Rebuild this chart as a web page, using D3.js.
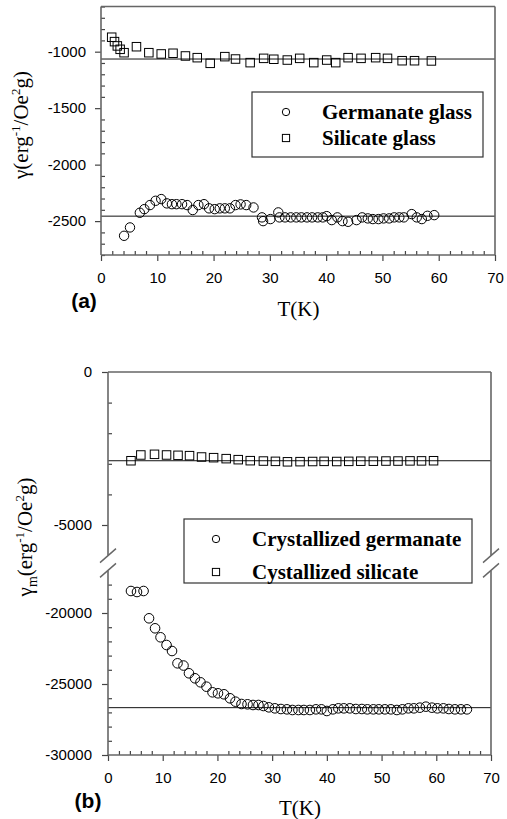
<!DOCTYPE html>
<html>
<head>
<meta charset="utf-8">
<script src="https://cdn.jsdelivr.net/npm/d3@7"></script>
<style>
  body { margin: 0; background: #fff; }
</style>
</head>
<body>
<div id="chart"></div>
<script>
// ---- data ----
// (a) glasses
const silicateGlassT = [1.9, 2.4, 2.9, 3.4, 4.1, 6.3, 8.5, 10.7, 12.8, 15.0, 17.1, 19.4, 22.0, 23.9, 26.5, 28.9, 30.7, 33.1, 35.3, 37.8, 40.1, 41.7, 43.9, 46.2, 48.8, 50.9, 53.5, 55.7, 58.7];
const silicateGlassG = [-872, -911, -949, -979, -1009, -956, -1009, -1020, -1014, -1038, -1053, -1103, -1044, -1065, -1097, -1059, -1067, -1074, -1059, -1097, -1074, -1097, -1053, -1059, -1053, -1059, -1080, -1080, -1082];

const germanateGlassT = [4.1, 5.15, 6.9, 7.7, 8.7, 9.7, 10.7, 11.7, 12.6, 13.4, 14.4, 15.3, 16.3, 17.3, 18.3, 19.2, 20.2, 21.1, 22.0, 22.9, 23.9, 24.8, 25.8, 27.1, 28.6, 28.8, 30.1, 31.5, 31.7, 32.7, 33.7, 34.7, 35.6, 36.6, 37.5, 38.5, 39.4, 40.1, 41.0, 42.0, 42.9, 43.9, 45.4, 46.4, 47.4, 48.3, 49.3, 50.2, 51.2, 52.1, 53.0, 53.8, 55.2, 56.1, 57.0, 58.0, 59.2];
const germanateGlassG = [-2630, -2556, -2426, -2394, -2358, -2320, -2305, -2343, -2350, -2350, -2350, -2358, -2402, -2358, -2350, -2387, -2394, -2387, -2387, -2387, -2358, -2352, -2358, -2379, -2467, -2500, -2482, -2423, -2467, -2467, -2467, -2467, -2467, -2467, -2467, -2467, -2467, -2456, -2491, -2467, -2500, -2506, -2491, -2467, -2476, -2482, -2482, -2476, -2476, -2467, -2467, -2467, -2438, -2467, -2482, -2453, -2447];

const levelsA = [-1065, -2456];

// (b) crystallized
const crystSilicateT = [4.2, 6.0, 8.5, 10.7, 12.8, 14.9, 17.1, 19.3, 21.6, 23.8, 26.0, 28.4, 30.6, 32.8, 35.1, 37.4, 39.5, 41.8, 44.0, 46.2, 48.5, 50.8, 53.0, 55.2, 57.3, 59.5];
const crystSilicateG = [-2900, -2712, -2690, -2712, -2723, -2734, -2778, -2800, -2832, -2865, -2898, -2910, -2920, -2935, -2930, -2925, -2920, -2925, -2920, -2915, -2915, -2910, -2910, -2905, -2905, -2900];

const crystGermanateT = [4.2, 5.3, 6.5, 7.5, 8.6, 9.6, 10.7, 11.7, 12.7, 13.8, 14.8, 15.9, 16.9, 18.0, 19.1, 20.1, 21.2, 22.3, 23.3, 24.4, 25.5, 26.5,
  27.5, 28.4, 29.4, 30.5, 31.6, 32.7, 33.7, 34.8, 35.8, 36.9, 38.0, 39.0, 40.0, 41.1, 42.1, 43.1, 44.2, 45.3, 46.4, 47.4, 48.5, 49.5, 50.6, 51.7, 52.8, 53.8, 54.9, 55.9, 57.0, 58.1, 59.2, 60.2, 61.3, 62.3, 63.4, 64.5, 65.6];
const crystGermanateG = [-18451, -18521, -18451, -20373, -21077, -21711, -22254, -22676, -23542, -23700, -24246, -24599, -24880, -25190, -25585, -25655, -25725, -26007, -26244, -26408, -26430, -26479,
  -26479, -26549, -26643, -26714, -26761, -26784, -26831, -26831, -26831, -26831, -26784, -26784, -26901, -26784, -26714, -26714, -26714, -26761, -26761, -26784, -26784, -26784, -26784, -26784, -26831, -26784, -26714, -26714, -26667, -26596, -26667, -26714, -26714, -26761, -26784, -26784, -26784];

const levelsB = [-2900, -26667];

// ticks
const xMajor = [0, 10, 20, 30, 40, 50, 60, 70];
const xMinor = d3.range(0, 71, 2).filter(d => d % 10 !== 0);
const yMajorA = [-1000, -1500, -2000, -2500];
const yMinorA = d3.range(-2800, -599, 100).filter(d => d % 500 !== 0);
const yMajorBUp = [0, -5000];
const yMinorBUp = [-1000, -2000, -3000, -4000];
const yMajorBLow = [-20000, -25000, -30000];
const yMinorBLow = [-18000, -19000, -21000, -22000, -23000, -24000, -26000, -27000, -28000, -29000];

const width = 507, height = 819;
const sans = "'Liberation Sans', Arial, sans-serif";
const serif = "'Liberation Serif', 'Times New Roman', serif";
const frameColor = '#666';
const tickColor = '#444';

const svg = d3.select('#chart').append('svg')
  .attr('width', width)
  .attr('height', height)
  .style('display', 'block');

function styleAxis(g) {
  g.select('.domain').remove();
  g.selectAll('.tick line').attr('stroke', tickColor).attr('stroke-width', 1.2);
  g.selectAll('.tick text').attr('fill', '#000').style('font-family', sans).style('font-size', '15px');
}

function vline(x, y1, y2) {
  svg.append('line').attr('x1', x).attr('x2', x).attr('y1', y1).attr('y2', y2)
    .attr('stroke', frameColor).attr('stroke-width', 1.6);
}
function hline(y, x1, x2) {
  svg.append('line').attr('x1', x1).attr('x2', x2).attr('y1', y).attr('y2', y)
    .attr('stroke', frameColor).attr('stroke-width', 1.6);
}

function xAxes(x, y0) {
  svg.append('g').attr('transform', `translate(0,${y0})`)
    .call(d3.axisBottom(x).tickValues(xMajor).tickSizeInner(6).tickSizeOuter(0).tickPadding(11).tickFormat(d => String(d)))
    .call(styleAxis);
  svg.append('g').attr('transform', `translate(0,${y0})`)
    .call(d3.axisBottom(x).tickValues(xMinor).tickSizeInner(-4).tickSizeOuter(0).tickFormat(''))
    .call(styleAxis);
}

function yAxes(y, x0, majors, minors, pad) {
  svg.append('g').attr('transform', `translate(${x0},0)`)
    .call(d3.axisLeft(y).tickValues(majors).tickSizeInner(6).tickSizeOuter(0).tickPadding(pad).tickFormat(d => String(d)))
    .call(styleAxis);
  svg.append('g').attr('transform', `translate(${x0},0)`)
    .call(d3.axisLeft(y).tickValues(minors).tickSizeInner(-4).tickSizeOuter(0).tickFormat(''))
    .call(styleAxis);
}

function circles(data, x, y, r) {
  svg.append('g').selectAll('circle').data(data).join('circle')
    .attr('cx', d => x(d[0])).attr('cy', d => y(d[1])).attr('r', r)
    .attr('fill', 'none').attr('stroke', '#000').attr('stroke-width', 1);
}
function squares(data, x, y, s) {
  svg.append('g').selectAll('rect').data(data).join('rect')
    .attr('x', d => x(d[0]) - s / 2).attr('y', d => y(d[1]) - s / 2)
    .attr('width', s).attr('height', s)
    .attr('fill', 'none').attr('stroke', '#000').attr('stroke-width', 1);
}

function legend(x0, y0, w, h, items) {
  svg.append('rect').attr('x', x0).attr('y', y0).attr('width', w).attr('height', h)
    .attr('fill', '#fff').attr('stroke', '#333').attr('stroke-width', 1.2);
  items.forEach(it => {
    if (it.shape === 'circle') {
      svg.append('circle').attr('cx', it.sx).attr('cy', it.sy).attr('r', 3.7)
        .attr('fill', 'none').attr('stroke', '#000');
    } else {
      svg.append('rect').attr('x', it.sx - 3.6).attr('y', it.sy - 3.6).attr('width', 7.2).attr('height', 7.2)
        .attr('fill', 'none').attr('stroke', '#000');
    }
    svg.append('text').attr('x', it.tx).attr('y', it.sy + 7)
      .style('font-family', serif).style('font-weight', 'bold').style('font-size', '21px')
      .text(it.label);
  });
}

// ================= panel (a) =================
const xA = d3.scaleLinear().domain([0, 70]).range([101, 495]);
const yA = d3.scaleLinear().domain([-2800, -600]).range([255, 6.5]);

levelsA.forEach(v => {
  svg.append('line').attr('x1', xA(0)).attr('x2', xA(70)).attr('y1', yA(v)).attr('y2', yA(v))
    .attr('stroke', '#111').attr('stroke-width', 1);
});

squares(d3.zip(silicateGlassT, silicateGlassG), xA, yA, 8.5);
circles(d3.zip(germanateGlassT, germanateGlassG), xA, yA, 4.7);

yAxes(yA, xA(0), yMajorA, yMinorA, 9);
xAxes(xA, yA(-2800));
vline(xA(0), yA(-600), yA(-2800));
vline(xA(70), yA(-600), yA(-2800));
hline(yA(-600), xA(0), xA(70));
hline(yA(-2800), xA(0), xA(70));

legend(252, 92, 231, 65, [
  { shape: 'circle', sx: 286, sy: 112, tx: 322, label: 'Germanate glass' },
  { shape: 'square', sx: 286, sy: 138, tx: 322, label: 'Silicate glass' }
]);

// y label (a)
const labA = svg.append('text')
  .attr('transform', 'translate(28,125) rotate(-90)')
  .attr('text-anchor', 'middle')
  .style('font-family', serif).style('font-size', '21px');
labA.append('tspan').text('γ(erg');
labA.append('tspan').attr('dy', -8).style('font-size', '13px').text('-1');
labA.append('tspan').attr('dy', 8).text('/Oe');
labA.append('tspan').attr('dy', -8).style('font-size', '13px').text('2');
labA.append('tspan').attr('dy', 8).text('g)');

svg.append('text').attr('x', 298.5).attr('y', 316).attr('text-anchor', 'middle')
  .style('font-family', serif).style('font-size', '21px').text('T(K)');
svg.append('text').attr('x', 84).attr('y', 308).attr('text-anchor', 'middle')
  .style('font-family', sans).style('font-weight', 'bold').style('font-size', '21px').text('(a)');

// ================= panel (b) =================
const xB = d3.scaleLinear().domain([0, 70]).range([108, 491]);
const yBUp = d3.scaleLinear().domain([-6000, 0]).range([555.6, 372]);
const yBLow = d3.scaleLinear().domain([-30000, -17000]).range([755, 570.4]);
const yB = v => (v > -10000 ? yBUp(v) : yBLow(v));

levelsB.forEach(v => {
  svg.append('line').attr('x1', xB(0)).attr('x2', xB(70)).attr('y1', yB(v)).attr('y2', yB(v))
    .attr('stroke', '#111').attr('stroke-width', 1);
});

squares(d3.zip(crystSilicateT, crystSilicateG), xB, yB, 8.5);
circles(d3.zip(crystGermanateT, crystGermanateG), xB, yB, 4.8);

yAxes(yBUp, xB(0), yMajorBUp, yMinorBUp, 10);
yAxes(yBLow, xB(0), yMajorBLow, yMinorBLow, 10);
xAxes(xB, yBLow(-30000));

[xB(0), xB(70)].forEach(x => {
  vline(x, yBUp(0), yBUp(-6000));
  vline(x, yBLow(-17000), yBLow(-30000));
  // break marks
  [yBUp(-6000), yBLow(-17000)].forEach(y => {
    svg.append('line').attr('x1', x - 8).attr('y1', y + 7).attr('x2', x + 8).attr('y2', y - 7)
      .attr('stroke', frameColor).attr('stroke-width', 1.4);
  });
});
hline(yBUp(0), xB(0), xB(70));
hline(yBLow(-30000), xB(0), xB(70));

legend(184, 519, 288, 64, [
  { shape: 'circle', sx: 216, sy: 539, tx: 252, label: 'Crystallized germanate' },
  { shape: 'square', sx: 216, sy: 572, tx: 252, label: 'Cystallized silicate' }
]);

const labB = svg.append('text')
  .attr('transform', 'translate(32,537) rotate(-90)')
  .attr('text-anchor', 'middle')
  .style('font-family', serif).style('font-size', '21px');
labB.append('tspan').text('γ');
labB.append('tspan').attr('dy', 5).style('font-size', '14px').text('m');
labB.append('tspan').attr('dy', -5).text('(erg');
labB.append('tspan').attr('dy', -8).style('font-size', '13px').text('-1');
labB.append('tspan').attr('dy', 8).text('/Oe');
labB.append('tspan').attr('dy', -8).style('font-size', '13px').text('2');
labB.append('tspan').attr('dy', 8).text('g)');

svg.append('text').attr('x', 300).attr('y', 815).attr('text-anchor', 'middle')
  .style('font-family', serif).style('font-size', '21px').text('T(K)');
svg.append('text').attr('x', 88).attr('y', 808).attr('text-anchor', 'middle')
  .style('font-family', sans).style('font-weight', 'bold').style('font-size', '21px').text('(b)');
</script>
</body>
</html>
